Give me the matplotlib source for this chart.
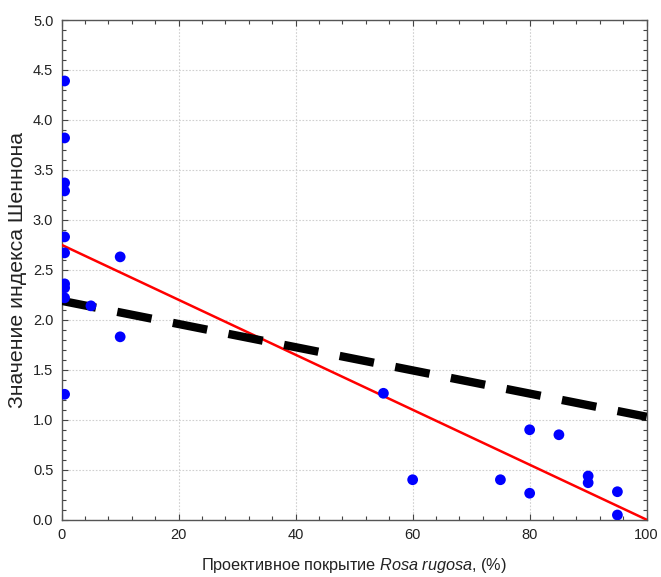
import matplotlib
matplotlib.use("Agg")
import matplotlib.pyplot as plt
from matplotlib.ticker import MultipleLocator, FormatStrFormatter

plt.rcParams['font.family'] = ['Liberation Sans', 'DejaVu Sans']
plt.rcParams['mathtext.fontset'] = 'custom'
plt.rcParams['mathtext.rm'] = 'Liberation Sans'
plt.rcParams['mathtext.it'] = 'Liberation Sans:italic'

# Data
cover = [0.5, 0.5, 0.5, 0.5, 0.5, 0.5, 0.5, 0.5, 0.5, 0.5,
         5, 10, 10, 55, 60, 75, 80, 80, 85, 90, 90, 95, 95]
shannon = [4.39, 3.82, 3.37, 3.29, 2.83, 2.67, 2.36, 2.32, 2.22, 1.255,
           2.14, 2.63, 1.83, 1.265, 0.40, 0.40, 0.90, 0.265, 0.85, 0.437, 0.37, 0.28, 0.047]

# Fitted lines (endpoints)
line_x = [0, 100]
red_y = [2.75, 0.0]
black_y = [2.19, 1.03]

fig = plt.figure(figsize=(6.61, 5.77), dpi=100)
ax = fig.add_axes([0.0933, 0.0993, 0.8850, 0.8660])

ax.plot(line_x, red_y, color='#ff0000', lw=1.8, zorder=3)
ax.plot(line_x, black_y, color='black', lw=6, linestyle=(0, (4.2, 2.6)), zorder=3,
        solid_capstyle='butt', dash_capstyle='butt')
ax.scatter(cover, shannon, s=60, color='#0000ff', edgecolors='none', zorder=4)

ax.set_xlim(0, 100)
ax.set_ylim(0, 5.0)
ax.xaxis.set_major_locator(MultipleLocator(20))
ax.xaxis.set_minor_locator(MultipleLocator(4))
ax.yaxis.set_major_locator(MultipleLocator(0.5))
ax.yaxis.set_minor_locator(MultipleLocator(0.1))
ax.yaxis.set_major_formatter(FormatStrFormatter('%.1f'))

ax.grid(True, which='major', color='#d0d0d0', linestyle=(0, (1.5, 1.5)), lw=0.8, zorder=0)
ax.tick_params(which='both', direction='in', top=True, right=True, color='#444444',
               labelsize=10.5, labelcolor='#222222')
ax.tick_params(which='major', length=4, width=0.8, pad=6)
ax.tick_params(which='minor', length=3, width=0.8)
for sp in ax.spines.values():
    sp.set_color('#555555')
    sp.set_linewidth(1.0)

ax.set_xlabel('Проективное покрытие $\\it{Rosa\\ rugosa}$, (%)', fontsize=11.7,
              color='#222222', labelpad=10)
ax.set_ylabel('Значение индекса Шеннона', fontsize=15.3, color='#222222', labelpad=4)

fig.savefig('out.png', dpi=100, facecolor='white')
